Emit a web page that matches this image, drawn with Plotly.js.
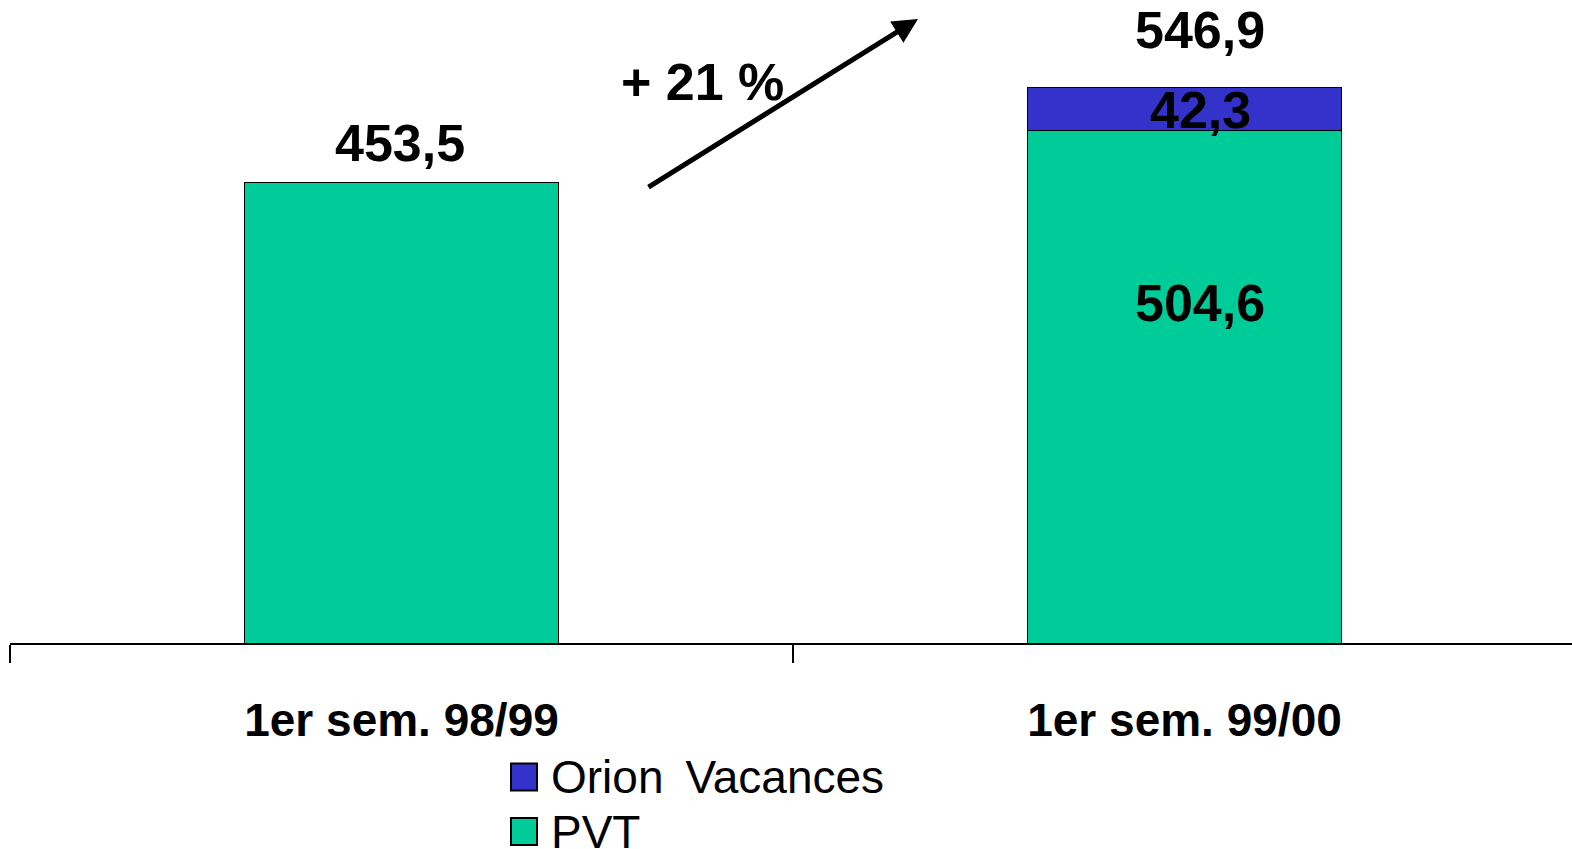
<!DOCTYPE html>
<html>
<head>
<meta charset="utf-8">
<script src="https://cdn.plot.ly/plotly-3.0.1.min.js"></script>
<style>html,body{margin:0;padding:0;background:#fff;}#chart{width:1572px;height:849px;}</style>
</head>
<body>
<div id="chart"></div>
<script>
const categories = ['1er sem. 98/99', '1er sem. 99/00'];
const pvtValues = [453.5, 504.6];
const orionValues = [null, 42.3];
const seriesNames = ['PVT', 'Orion Vacances'];
const growthLabel = '+ 21 %';

const W = 1572, H = 849;
const plotL = 10, plotT = 0, plotW = 1562, plotH = 643;
const catPx = 783;
const fmt = v => v.toFixed(1).replace('.', ',');
const px2x = px => (px - plotL) / plotW;
const py2y = py => (plotT + plotH - py) / plotH;

const totals = pvtValues.map((v, i) => v + (orionValues[i] || 0));

const GREEN = '#00CC99', BLUE = '#3333CC';
const boldFont = {family: 'Liberation Sans, Arial, sans-serif', size: 52, color: '#000'};

const traces = [
  {type: 'bar', name: seriesNames[0], x: categories, y: pvtValues, width: 0.4,
   marker: {color: GREEN, line: {color: '#000', width: 1}}, hoverinfo: 'none'},
  {type: 'bar', name: seriesNames[1], x: categories, y: orionValues, width: 0.4,
   marker: {color: BLUE, line: {color: '#000', width: 1}}, hoverinfo: 'none'}
];

const annotations = [];
totals.forEach((t, i) => {
  annotations.push({x: categories[i], y: t, xref: 'x', yref: 'y', text: '<b>' + fmt(t) + '</b>',
    showarrow: false, yanchor: 'bottom', xshift: i === 0 ? -2 : 15, yshift: i === 0 ? 8 : 26, font: boldFont});
});
annotations.push({x: categories[1], y: pvtValues[1] + orionValues[1] / 2, xref: 'x', yref: 'y',
  text: '<b>' + fmt(orionValues[1]) + '</b>', showarrow: false, yanchor: 'middle', xshift: 16, yshift: -1, font: boldFont});
annotations.push({x: categories[1], y: pvtValues[1] * 0.66, xref: 'x', yref: 'y',
  text: '<b>' + fmt(pvtValues[1]) + '</b>', showarrow: false, yanchor: 'middle', xshift: 15, yshift: 2, font: boldFont});
annotations.push({x: px2x(918), y: py2y(19), xref: 'paper', yref: 'paper', text: '',
  showarrow: true, ax: 647 - 918, ay: 188 - 19, axref: 'pixel', ayref: 'pixel',
  arrowhead: 2, arrowsize: 1, arrowwidth: 5, arrowcolor: '#000'});
annotations.push({x: px2x(702), y: py2y(82), xref: 'paper', yref: 'paper', text: '<b>' + growthLabel + '</b>',
  showarrow: false, xanchor: 'center', yanchor: 'middle', font: boldFont});

const legendItems = [{name: seriesNames[1], color: BLUE, cy: 777}, {name: seriesNames[0], color: GREEN, cy: 831.5}];
const shapes = [];
legendItems.forEach(it => {
  shapes.push({type: 'rect', xref: 'paper', yref: 'paper', x0: px2x(511), x1: px2x(537),
    y0: py2y(it.cy + 13.5), y1: py2y(it.cy - 13.5), fillcolor: it.color, line: {color: '#000', width: 2}});
  annotations.push({x: px2x(549), y: py2y(it.cy), xref: 'paper', yref: 'paper', text: it.name.replace(' ', ' \u2009'),
    showarrow: false, xanchor: 'left', yanchor: 'middle',
    font: {family: 'Liberation Sans, Arial, sans-serif', size: 46, color: '#000'}});
});

const layout = {
  width: W, height: H,
  margin: {l: plotL, r: W - plotL - plotW, t: plotT, b: H - plotT - plotH, pad: 0},
  paper_bgcolor: '#fff', plot_bgcolor: '#fff',
  barmode: 'stack', showlegend: false,
  xaxis: {type: 'category', range: [-0.5, -0.5 + plotW / catPx], tickson: 'boundaries',
    ticks: 'outside', ticklen: 18, tickwidth: 2, tickcolor: '#000', ticklabelstandoff: 36,
    showline: true, linecolor: '#000', linewidth: 2, showgrid: false, zeroline: false,
    tickfont: {family: 'Liberation Sans, Arial, sans-serif', size: 46, color: '#000'},
    tickprefix: '<b>', ticksuffix: '</b>', fixedrange: true},
  yaxis: {range: [0, plotH / 1.016], showticklabels: false, showgrid: false, zeroline: false,
    showline: false, ticks: '', fixedrange: true},
  annotations: annotations,
  shapes: shapes
};

Plotly.newPlot('chart', traces, layout, {displayModeBar: false, staticPlot: true});
</script>
</body>
</html>
